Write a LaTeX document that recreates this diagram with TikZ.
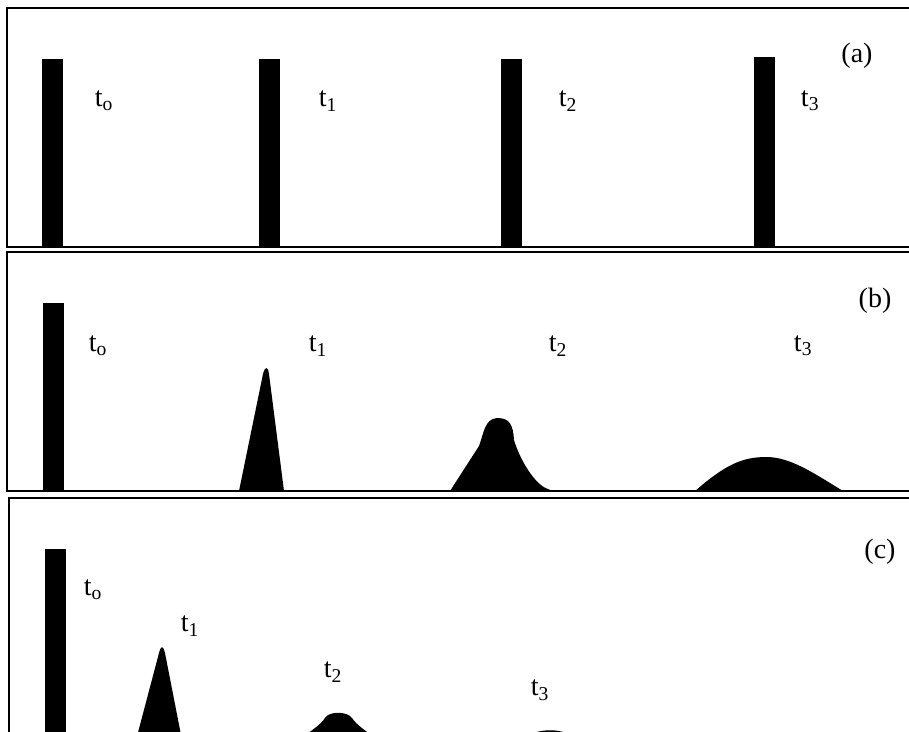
\documentclass[tikz,border=0pt]{standalone}
\usepackage{fontspec}
\setmainfont{Liberation Serif}
\tikzset{fr/.style={draw,line width=1.8pt},pk/.style={fill=black},
 lb/.style={font=\fontsize{28}{32}\selectfont,inner sep=0pt}}
\begin{document}
\begin{tikzpicture}[x=1pt,y=-1pt]
\useasboundingbox (0,0) rectangle (909,731);\clip (0,0) rectangle (909,731);
% (a) pulses keep their shape
\draw[fr] (7,8) rectangle (930,247);
\foreach\x/\y in {42/59,259/59,501/59,754/57}{\fill[pk] (\x,\y) rectangle ++(21,247-\y);}
\node[lb](a0) at (104,101){t\textsubscript{o}};\node[lb](a1) at (328,101){t\textsubscript{1}};
\node[lb](a2) at (568,101){t\textsubscript{2}};\node[lb](a3) at (810,101){t\textsubscript{3}};
\node[lb](ta) at (857,56){(a)};
% (b) pulses spread out
\draw[fr] (7,252) rectangle (930,491);
\fill[pk] (43,303) rectangle (64,491);
\fill[pk] (239,491) -- (263,374) .. controls (265,366) and (268,366) .. (269,374) -- (284,491) -- cycle;
\fill[pk] (450,491) -- (479,446) .. controls (484,432) and (485,419) .. (497,418) .. controls (510,418) and (513,425) .. (514,440) .. controls (520,460) and (535,485) .. (548,489) -- (553,491) -- cycle;
\fill[pk] (695,491) .. controls (725,465) and (742,457) .. (766,457) .. controls (790,457) and (812,472) .. (843,491) -- cycle;
\node[lb](b0) at (98,346){t\textsubscript{o}};\node[lb](b1) at (318,346){t\textsubscript{1}};
\node[lb](b2) at (558,346){t\textsubscript{2}};\node[lb](b3) at (803,346){t\textsubscript{3}};
\node[lb](tb) at (875,301){(b)};
% (c) pulses shrink
\draw[fr] (9,498) rectangle (930,760);
\fill[pk] (45,549) rectangle (66,760);
\fill[pk] (136,740) -- (159,653) .. controls (161,645) and (163,645) .. (165,653) -- (182,740) -- cycle;
\fill[pk] (298,740) .. controls (314,729) and (320,725) .. (325,718) .. controls (329,711) and (347,711) .. (352,718) .. controls (357,725) and (363,729) .. (378,740) -- cycle;
\fill[pk] (522,740) .. controls (535,727) and (565,727) .. (578,740) -- cycle;
\node[lb](c0) at (93,590){t\textsubscript{o}};\node[lb](c1) at (190,626){t\textsubscript{1}};
\node[lb](c2) at (333,672){t\textsubscript{2}};\node[lb](c3) at (540,690){t\textsubscript{3}};
\node[lb](tc) at (880,552){(c)};
\end{tikzpicture}
\end{document}
